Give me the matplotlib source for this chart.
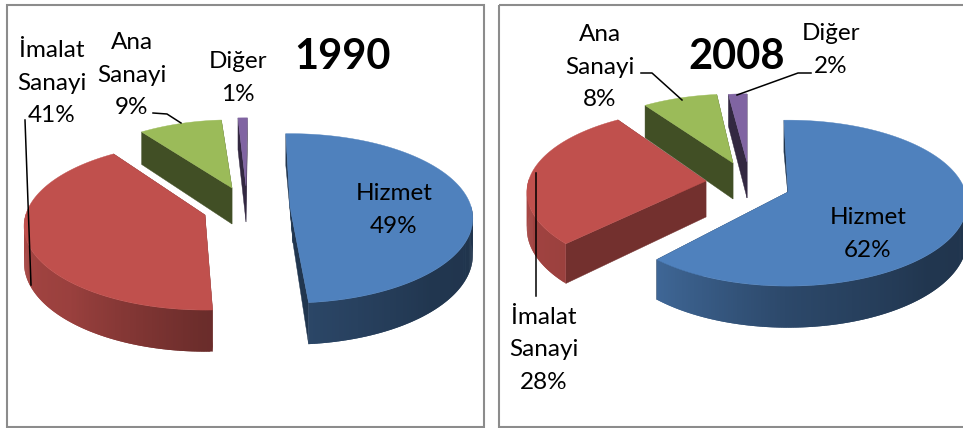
import numpy as np
import matplotlib
matplotlib.use("Agg")
import matplotlib.pyplot as plt
from matplotlib.patches import Rectangle

# Dati
categories = ["Hizmet", "İmalat\nSanayi", "Ana\nSanayi", "Diğer"]
values_1990 = [49, 41, 9, 1]
values_2008 = [62, 28, 8, 2]

colors = ["#4f81bd", "#c0504d", "#9bbb59", "#8064a2"]
side_shade = [0.42, 0.60, 0.42, 0.40]
apex_shift = [3, 0, 0, 0]

plt.rcParams["font.family"] = ["Lato", "DejaVu Sans"]

# Parametri della proiezione (pixel)
rx, ry, persp, depth = 183, 84, 0.134, 36
start_angle = 91.5


def shade(color, f):
    return tuple(c * f for c in matplotlib.colors.to_rgb(color))


def project(apex, scale, ang):
    a = np.radians(ang)
    w = 1 + persp * np.sin(a)
    x = apex[0] + scale * rx * np.cos(a) / w
    y = apex[1] - scale * ry * np.sin(a) / w
    return x, y, depth / w


def draw_slice(ax, apex, scale, a1, a2, color, side, shift):
    ang = np.linspace(a1, a2, max(int(abs(a2 - a1) * 1.5), 3))
    x, y, d = project(apex, scale, ang)
    x0, y0 = apex

    # facce radiali
    for i in (0, -1):
        ax.fill([x0, x[i], x[i], x0 + shift], [y0, y[i], y[i] + d[i], y0 + depth],
                color=shade(color, side), lw=0.3, zorder=2)

    # parete esterna con sfumatura, solo la parte visibile
    norm = np.mod(ang, 360)
    mult = np.interp(norm, [180, 228, 270, 315, 360], [0.88, 0.80, 0.56, 0.42, 0.40])
    n = len(ang)
    for i in range(n - 1):
        if np.sin(np.radians(ang[i])) > 0.02:
            continue
        j = min(i + 2, n - 1)
        ax.fill([x[i], x[j], x[j], x[i]],
                [y[i], y[j], y[j] + d[j], y[i] + d[i]],
                color=shade(color, mult[i]), lw=0, zorder=2)

    # faccia superiore
    ax.fill(np.r_[x0, x], np.r_[y0, y], color=color, lw=0.3, zorder=2)


def draw_pie(ax, values, apexes, scales, rots):
    edges = start_angle - np.cumsum([0] + list(values)) * 3.6
    for i in [3, 2, 1, 0]:
        draw_slice(ax, apexes[i], scales[i], edges[i] + rots[i], edges[i + 1] + rots[i],
                   colors[i], side_shade[i], apex_shift[i])


fig = plt.figure(figsize=(9.63, 4.28), dpi=100)
ax = fig.add_axes([0, 0, 1, 1])
ax.set_xlim(0, 963)
ax.set_ylim(428, 0)
ax.axis("off")

# Cornici
for x0, x1 in [(7, 484), (499, 975)]:
    ax.add_patch(Rectangle((x0, 5), x1 - x0, 422, fill=False, ec="#8c8c8c", lw=1.5))

draw_pie(ax, values_1990, [(290, 207), (205, 215), (232, 188), (246, 186)],
         [0.99, 0.98, 0.92, 0.92], [0, -3, -1, -2])
draw_pie(ax, values_2008, [(788, 192), (706, 181), (733, 163), (747, 162)],
         [0.97, 0.97, 0.93, 0.92], [0, -4, -2.5, -1.5])

# Linee guida
leaders = [
    ([25, 31], [120, 285]),
    ([153, 167, 181], [113, 114, 123]),
    ([641, 652, 682], [73, 73, 100]),
    ([811, 798, 737], [73, 73, 95]),
    ([536, 536], [173, 296]),
]
for lx, ly in leaders:
    ax.plot(lx, ly, color="black", lw=1.1, zorder=3)


def label(x, y, name, value):
    ax.text(x, y, f"{name}\n{value}%", ha="center", va="center", fontsize=17.5,
            linespacing=1.66, color="black", zorder=4)


label(394, 210, categories[0], values_1990[0])
label(52, 83, categories[1], values_1990[1])
label(132, 75, categories[2], values_1990[2])
label(238, 78, categories[3], values_1990[3])
ax.text(343, 57, "1990", ha="center", va="center", fontsize=30, fontweight="bold", zorder=4)

label(868, 234, categories[0], values_2008[0])
label(544, 350, categories[1], values_2008[1])
label(600, 67, categories[2], values_2008[2])
label(831, 50, categories[3], values_2008[3])
ax.text(737, 57, "2008", ha="center", va="center", fontsize=30, fontweight="bold", zorder=4)

fig.savefig("out.png", dpi=100)
